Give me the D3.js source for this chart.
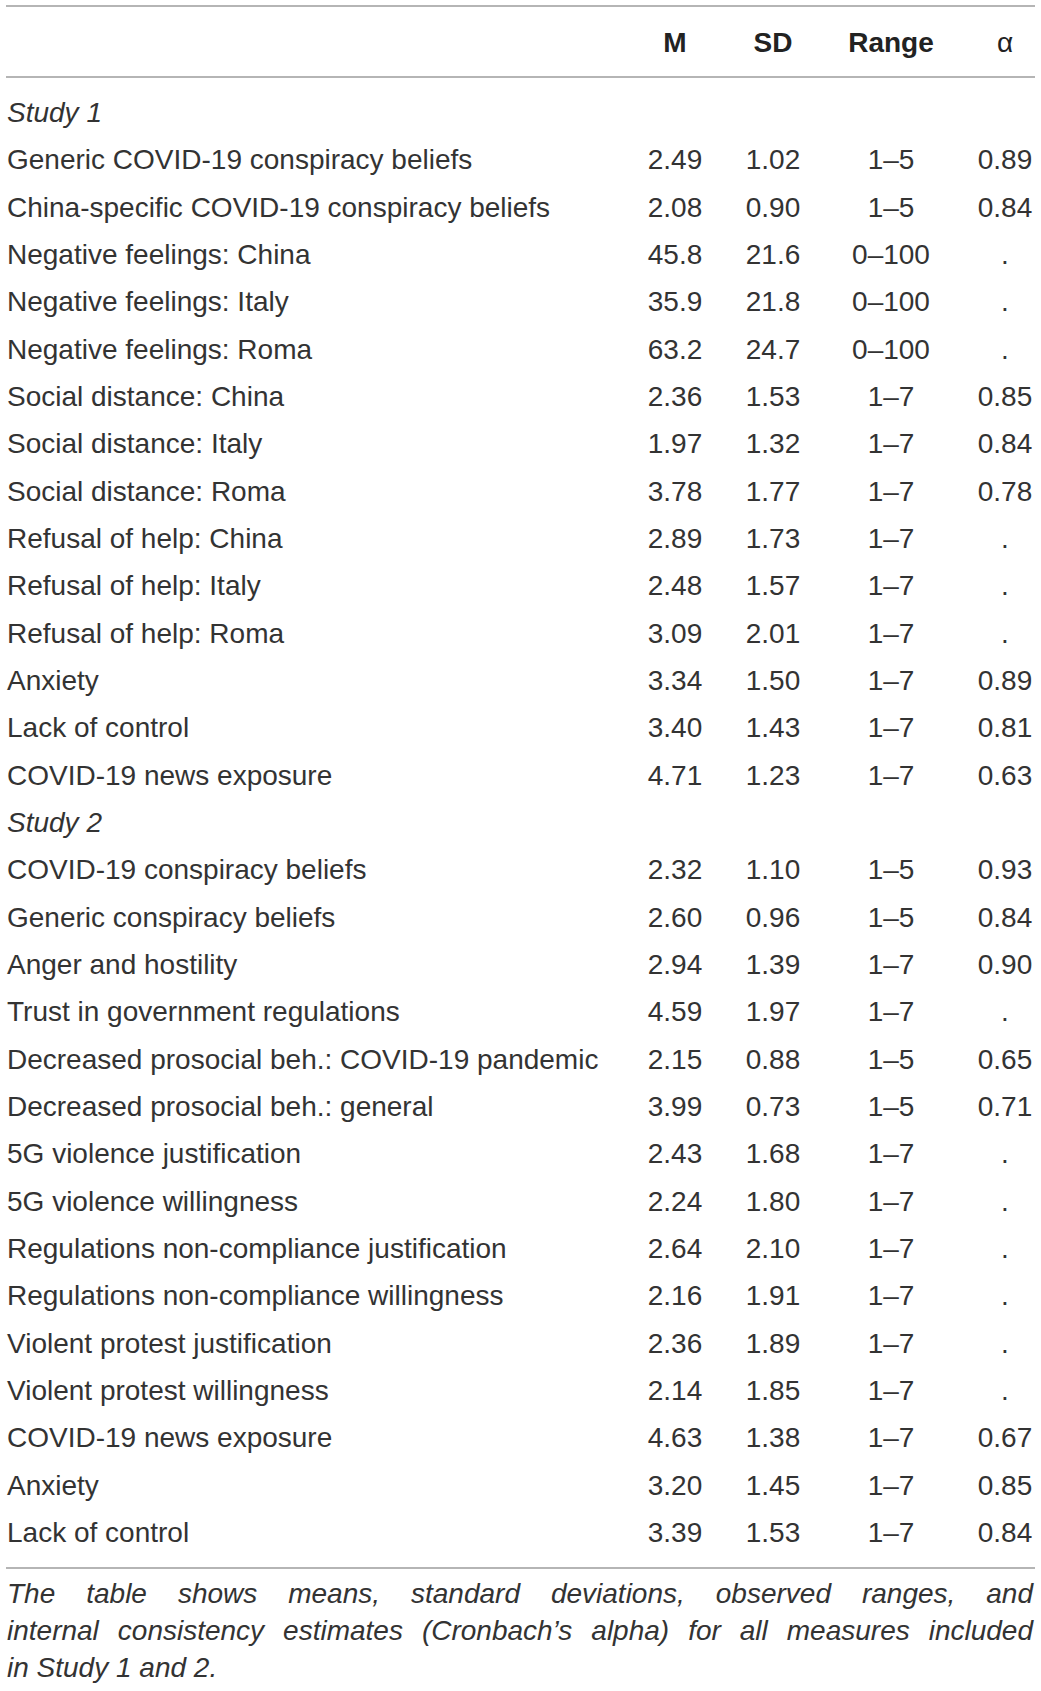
<!DOCTYPE html>
<html>
<head>
<meta charset="utf-8">
<script src="https://cdn.jsdelivr.net/npm/d3@7"></script>
<style>
  html, body { margin: 0; padding: 0; background: #fff; }
  svg { display: block; }
  text { font-family: "Liberation Sans", Arial, sans-serif; fill: #333; }
</style>
</head>
<body>
<div id="chart"></div>
<script>
// column headers
const columns = ["M", "SD", "Range", "α"];

// Study 1
const study1Labels = [
  "Generic COVID-19 conspiracy beliefs",
  "China-specific COVID-19 conspiracy beliefs",
  "Negative feelings: China",
  "Negative feelings: Italy",
  "Negative feelings: Roma",
  "Social distance: China",
  "Social distance: Italy",
  "Social distance: Roma",
  "Refusal of help: China",
  "Refusal of help: Italy",
  "Refusal of help: Roma",
  "Anxiety",
  "Lack of control",
  "COVID-19 news exposure"
];
const study1M = ["2.49", "2.08", "45.8", "35.9", "63.2", "2.36", "1.97", "3.78", "2.89", "2.48", "3.09", "3.34", "3.40", "4.71"];
const study1SD = ["1.02", "0.90", "21.6", "21.8", "24.7", "1.53", "1.32", "1.77", "1.73", "1.57", "2.01", "1.50", "1.43", "1.23"];
const study1Range = ["1–5", "1–5", "0–100", "0–100", "0–100", "1–7", "1–7", "1–7", "1–7", "1–7", "1–7", "1–7", "1–7", "1–7"];
const study1Alpha = ["0.89", "0.84", ".", ".", ".", "0.85", "0.84", "0.78", ".", ".", ".", "0.89", "0.81", "0.63"];

// Study 2
const study2Labels = [
  "COVID-19 conspiracy beliefs",
  "Generic conspiracy beliefs",
  "Anger and hostility",
  "Trust in government regulations",
  "Decreased prosocial beh.: COVID-19 pandemic",
  "Decreased prosocial beh.: general",
  "5G violence justification",
  "5G violence willingness",
  "Regulations non-compliance justification",
  "Regulations non-compliance willingness",
  "Violent protest justification",
  "Violent protest willingness",
  "COVID-19 news exposure",
  "Anxiety",
  "Lack of control"
];
const study2M = ["2.32", "2.60", "2.94", "4.59", "2.15", "3.99", "2.43", "2.24", "2.64", "2.16", "2.36", "2.14", "4.63", "3.20", "3.39"];
const study2SD = ["1.10", "0.96", "1.39", "1.97", "0.88", "0.73", "1.68", "1.80", "2.10", "1.91", "1.89", "1.85", "1.38", "1.45", "1.53"];
const study2Range = ["1–5", "1–5", "1–7", "1–7", "1–5", "1–5", "1–7", "1–7", "1–7", "1–7", "1–7", "1–7", "1–7", "1–7", "1–7"];
const study2Alpha = ["0.93", "0.84", "0.90", ".", "0.65", "0.71", ".", ".", ".", ".", ".", ".", "0.67", "0.85", "0.84"];

const sections = ["Study 1", "Study 2"];

// footnote, broken as in the source
const footnoteLines = [
  "The table shows means, standard deviations, observed ranges, and",
  "internal consistency estimates (Cronbach’s alpha) for all measures included",
  "in Study 1 and 2."
];

function buildRows(section, labels, m, sd, range, alpha) {
  const out = [{ section: true, label: section }];
  labels.forEach((l, i) => out.push({ section: false, label: l, values: [m[i], sd[i], range[i], alpha[i]] }));
  return out;
}

const rows = buildRows(sections[0], study1Labels, study1M, study1SD, study1Range, study1Alpha)
  .concat(buildRows(sections[1], study2Labels, study2M, study2SD, study2Range, study2Alpha));

const width = 1041, height = 1691;
const left = 6, right = 1035;
const fontSize = 28;

const svg = d3.select("#chart").append("svg")
  .attr("width", width)
  .attr("height", height)
  .attr("viewBox", [0, 0, width, height].join(" "));

// baseline of each row
const yRow = d3.scaleLinear()
  .domain([0, rows.length - 1])
  .range([122, 1542]);

// centre of each value column
const xCol = d3.scaleOrdinal()
  .domain(columns)
  .range([675, 773, 891, 1005]);

// rules
const rules = [6, 77, 1568];
svg.append("g")
  .selectAll("line")
  .data(rules)
  .join("line")
    .attr("x1", left)
    .attr("x2", right)
    .attr("y1", d => d)
    .attr("y2", d => d)
    .attr("stroke", "#9c9c9c")
    .attr("stroke-width", 1.6);

// header
svg.append("g")
  .selectAll("text")
  .data(columns)
  .join("text")
    .attr("x", d => xCol(d))
    .attr("y", 52)
    .attr("text-anchor", "middle")
    .attr("font-size", fontSize)
    .attr("font-weight", d => d === "α" ? "normal" : "bold")
    .style("fill", "#222")
    .text(d => d);

// body rows
const rowG = svg.append("g")
  .selectAll("g")
  .data(rows)
  .join("g")
    .attr("transform", (d, i) => "translate(0," + yRow(i) + ")");

rowG.append("text")
  .attr("x", left + 1)
  .attr("font-size", fontSize)
  .attr("font-style", d => d.section ? "italic" : "normal")
  .text(d => d.label);

rowG.filter(d => !d.section)
  .selectAll("text.val")
  .data(d => d.values.map((v, j) => ({ col: columns[j], v: v })))
  .join("text")
    .attr("class", "val")
    .attr("x", d => xCol(d.col))
    .attr("text-anchor", "middle")
    .attr("font-size", fontSize)
    .text(d => d.v);

// footnote, justified
const noteG = svg.append("g")
  .attr("font-size", fontSize)
  .attr("font-style", "italic");

const measure = noteG.append("text").attr("opacity", 0);
function textWidth(s) {
  measure.text(s);
  return measure.node().getComputedTextLength();
}

const noteLeft = left + 1, noteRight = right - 2;
const maxW = noteRight - noteLeft;
const spaceW = textWidth("a a") - textWidth("aa");
const noteY = d3.scaleLinear().domain([0, footnoteLines.length - 1]).range([1603, 1677]);

footnoteLines.forEach((line, li) => {
  const ws = line.split(" ");
  const widths = ws.map(textWidth);
  const total = d3.sum(widths);
  const last = li === footnoteLines.length - 1;
  const gap = (!last && ws.length > 1) ? (maxW - total) / (ws.length - 1) : spaceW;
  let x = noteLeft;
  ws.forEach((w, k) => {
    noteG.append("text")
      .attr("x", x)
      .attr("y", noteY(li))
      .text(w);
    x += widths[k] + gap;
  });
});
measure.remove();
</script>
</body>
</html>
